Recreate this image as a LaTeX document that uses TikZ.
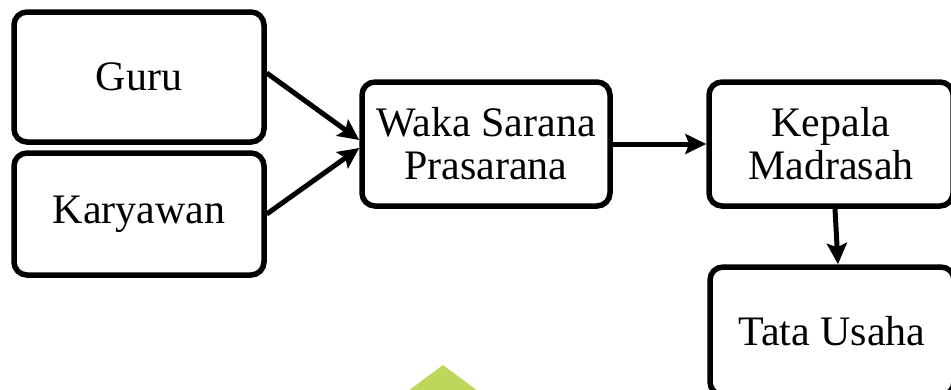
\documentclass[tikz,border=0pt]{standalone}
\usepackage{fontspec}
\setmainfont{Liberation Serif}
\usetikzlibrary{arrows.meta}
\definecolor{leaf}{RGB}{190,214,92}
\tikzset{
  box/.style={draw=black, line width=5.5pt, rounded corners=13pt, align=center,
    inner sep=0pt, font=\fontsize{42}{43}\selectfont},
  link/.style={line width=5pt, -{Stealth[length=21pt,width=20pt,inset=4pt]}}
}
\begin{document}
\begin{tikzpicture}[x=1pt,y=-1pt]
\useasboundingbox (0,0) rectangle (951,389);
\fill[leaf] (443,365) -- (408,391) -- (478,391) -- cycle;
\node[box, minimum width=250pt, minimum height=130pt] (guru) at (139,77) {Guru};
\node[box, minimum width=250pt, minimum height=122pt] (kary) at (139,214) {Karyawan};
\node[box, minimum width=248pt, minimum height=124pt] (waka) at (486,144) {Waka Sarana\\Prasarana};
\node[box, minimum width=244pt, minimum height=124pt] (kep) at (831,144) {Kepala\\Madrasah};
\node[box, minimum width=244pt, minimum height=128pt] (tata) at (832,331) {Tata Usaha};
\draw[link] ([yshift=4pt]guru.east) -- ([yshift=4pt]waka.west);
\draw[link] (kary.east) -- ([yshift=-4pt]waka.west);
\draw[link] (waka.east) -- (kep.west);
\draw[link] ([xshift=4pt]kep.south) -- ([xshift=6pt]tata.north);
\end{tikzpicture}
\end{document}
